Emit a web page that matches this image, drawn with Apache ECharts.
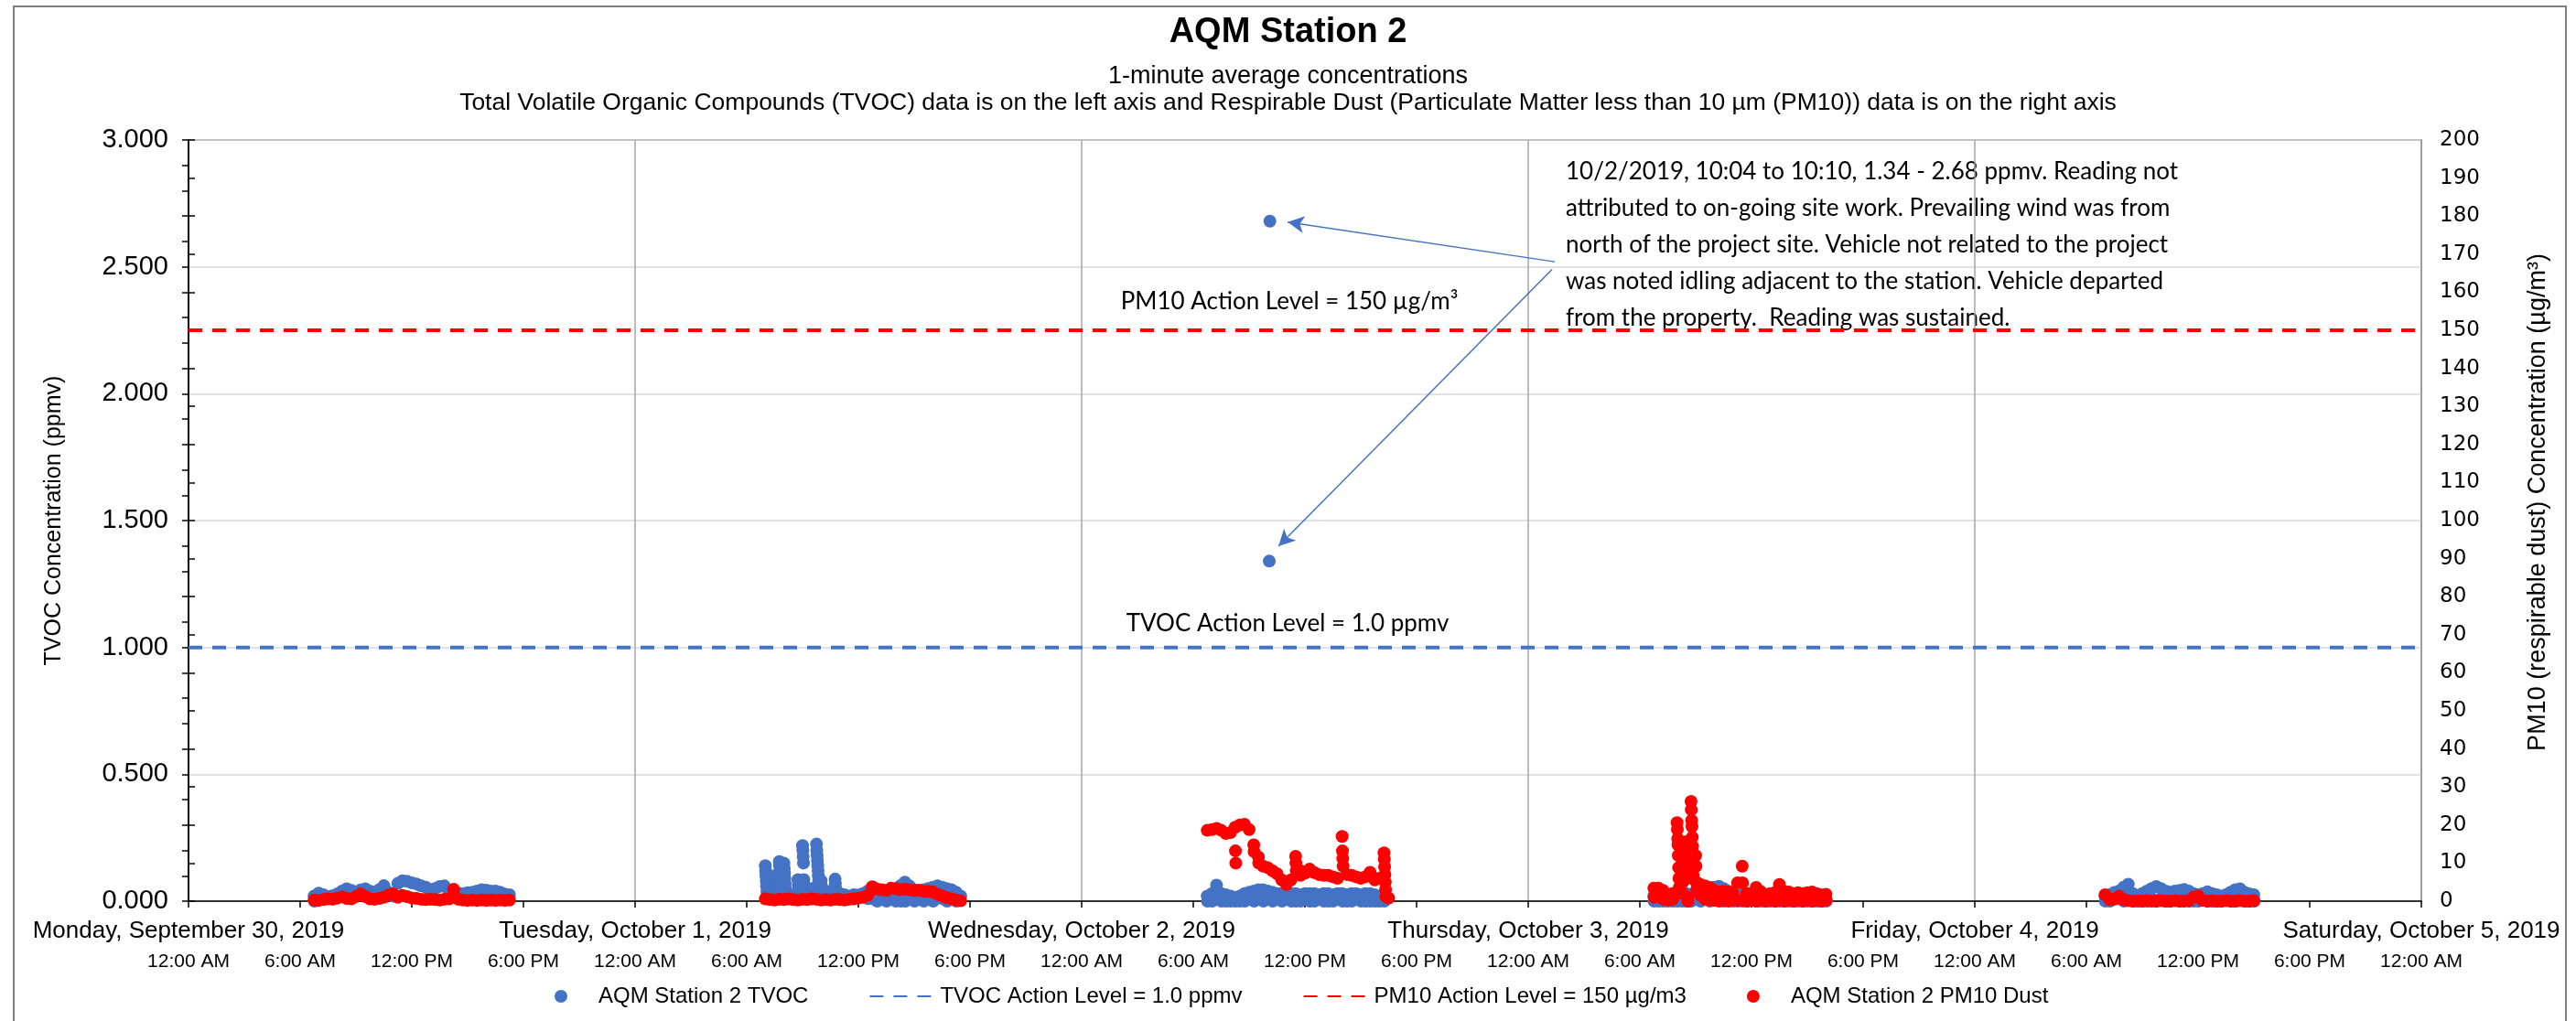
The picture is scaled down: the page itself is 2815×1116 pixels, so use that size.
<!DOCTYPE html>
<html>
<head>
<meta charset="utf-8">
<title>AQM Station 2</title>
<script src="https://cdn.jsdelivr.net/npm/echarts@6/dist/echarts.min.js"></script>
<style>
  html, body { margin: 0; padding: 0; background: #fff; }
  #chart { width: 2815px; height: 1116px; }
</style>
</head>
<body>
<div id="chart"></div>
<script>
// x values are hours since Monday Sep 30 2019, 12:00 AM
var dayLabels = ['Monday, September 30, 2019', 'Tuesday, October 1, 2019', 'Wednesday, October 2, 2019',
  'Thursday, October 3, 2019', 'Friday, October 4, 2019', 'Saturday, October 5, 2019'];
var timeLabels = ['12:00 AM', '6:00 AM', '12:00 PM', '6:00 PM'];

// readings, one slot every 15 minutes from the start hour; a slot with a list holds several 1-minute readings
var STEP = 0.25;

var tvocSep30 = [[0.02, 0], 0.032, 0.025, 0.017, 0.022, 0.029, 0.04, 0.049, 0.042, 0.037, 0.044, 0.049, 0.04,
  0.035, 0.045, 0.061, 0.035, 0.02, 0.07, 0.08, 0.078, 0.072, 0.068, 0.06, 0.055, 0.045, 0.05, 0.058, 0.06,
  0.04, 0.034, 0.032, 0.03, 0.033, 0.035, 0.04, 0.045, 0.043, 0.04, 0.04, 0.035, 0.028, 0.025];
var pmSep30 = [0.3, 0.2, 0.4, 0.6, 0.5, 0.8, 1.1, 0.7, 0.6, 1.2, 1.9, 1.2, 0.6, 0.5, 0.7, 1.0, 1.6, 1.9, 1.0,
  1.5, 1.2, 0.8, 0.7, 0.5, 0.4, 0.5, 0.4, 0.3, 0.5, 0.6, 3.1, 0.5, 0.3, 0.2, 0.3, 0.2, 0.3, 0.2, 0.3, 0.2, 0.3,
  0.2, 0.3];

var tvocOct1 = [[0.14, 0.12, 0.1, 0.08, 0.06, 0.04, 0.02], [0.03, 0.01], [0.1, 0.08, 0.06, 0.04, 0.02],
  [0.156, 0.14, 0.12, 0.1, 0.08, 0.06, 0.04, 0.02], [0.15, 0.13, 0.11, 0.09, 0.07, 0.05, 0.03], [0.02, 0.01],
  [0.025, 0.01], [0.085, 0.065, 0.045, 0.02], [0.219, 0.2, 0.175, 0.15, 0.085, 0.065, 0.04, 0.02], [0.03, 0.01],
  [0.05, 0.03, 0.01], [0.225, 0.2, 0.18, 0.16, 0.14, 0.12, 0.1, 0.08, 0.06, 0.04, 0.02], [0.08, 0.06, 0.04, 0.02],
  [0.035, 0.01], [0.04, 0.02], [0.087, 0.07, 0.05, 0.03], [0.03, 0.01], 0.025, 0.02, 0.025, 0.024, 0.03,
  [0.04, 0.01], [0.05, 0.01], [0.045, 0], [0.04, 0.01], [0.035, 0], [0.03, 0.01], [0.045, 0], [0.06, 0.02, 0],
  [0.075, 0.04, 0], [0.06, 0.02], [0.045, 0], [0.04, 0.01], [0.045, 0], [0.05, 0.01], [0.055, 0], [0.06, 0.02],
  [0.055, 0.01], [0.05, 0], [0.045, 0.01], [0.035, 0], 0.02];
var pmOct1 = [0.6, 0.4, 0.3, 0.5, 0.4, 0.6, 0.4, 0.3, 0.5, 0.4, 0.6, 0.5, 0.3, 0.4, 0.3, 0.5, 0.4, 0.3, 0.5, 0.6,
  0.8, 1.0, 1.5, 3.8, 3.2, 3.0, 2.8, 3.4, 3.3, 3.0, 3.2, 3.0, 2.8, 2.9, 2.6, 2.6, 2.4, 1.8, 1.4, 0.9, 0.6, 0.3, 0.1];

var tvocOct2 = [[0.02, 0], [0.03, 0], [0.063, 0.04, 0.01], [0.03, 0], [0.025, 0], [0.02, 0], [0.015, 0], [0.02, 0],
  [0.03, 0], [0.035, 0.01], [0.04, 0], [0.045, 0.01], [0.045, 0], [0.04, 0.01], [0.035, 0], [0.03, 0.01], [0.03, 0],
  [0.03, 0.01], [0.03, 0], [0.03, 0], [0.025, 0], [0.03, 0.01], [0.03, 0], [0.03, 0], [0.025, 0.01], [0.03, 0],
  [0.03, 0], [0.025, 0], [0.03, 0.01], [0.03, 0], [0.025, 0], [0.03, 0], [0.03, 0.01], [0.025, 0], [0.03, 0],
  [0.03, 0], [0.025, 0], [0.02, 0], [0.02, 0]];
var pmOct2 = [18.6, 18.8, 19.1, 18.6, 17.8, 18.0, [19.4, 13.2, 10.0], 20.0, 20.2, 18.8, [14.8, 13.0], [11.6, 10.0],
  9.2, 8.8, 8.0, 7.2, 5.6, 4.4, 5.6, [11.8, 10.0, 8.0], [8.0, 6.8], 7.4, 8.4, 7.5, 7.0, 6.8, 6.8, 6.4, 6.0,
  [17.0, 13.2, 11.2, 9.2], 7.0, 6.8, 6.4, 6.0, 6.4, 7.6, 5.6, 6.0, [12.7, 11.0, 9.0, 7.0, 5.0, 3.0, 1.2], 0.8];

var tvocOct3 = [[0.02, 0], [0.01, 0], [0.02, 0], [0.01, 0], [0.02, 0], [0.03, 0], [0.02, 0], [0.03, 0], [0.02, 0],
  [0.03, 0.01], [0.04, 0], [0.045, 0.01], [0.05, 0], [0.055, 0.01], [0.059, 0.02], [0.05, 0], [0.04, 0.01],
  [0.03, 0], [0.02, 0], [0.025, 0], [0.02, 0], [0.03, 0.01], [0.035, 0], [0.03, 0], [0.025, 0], [0.02, 0],
  [0.02, 0], [0.025, 0], [0.02, 0], [0.02, 0], [0.015, 0], [0.02, 0], [0.015, 0], [0.02, 0], [0.015, 0],
  [0.02, 0], [0.015, 0], [0.01, 0]];
var pmOct3 = [[3.4, 1.0], [3.4, 2.0], [2.8, 0.5], [1.2, 0.3], [2.0, 0.5],
  [20.6, 18.8, 16.4, 14.8, 12.0, 8.8, 6.0, 3.6], [13.0, 10.0, 8.0, 5.0, 2.0], [15.6, 12.4, 9.5, 6.0, 1.0, 0.0],
  [26.2, 24.0, 21.2, 19.6, 16.8, 14.4, 10.0, 6.8], [12.0, 9.2, 5.0, 3.0], [4.4, 1.5], [4.0, 0.5], [3.6, 0.3],
  [2.8, 0.2], [2.4, 0], [2.6, 0.2], [2.4, 0], [2.2, 0.3], [4.8, 0.2], [9.2, 4.8, 0.2], [2.0, 0], [2.0, 0.2],
  [3.6, 0], [2.5, 0.3], [1.6, 0], [2.0, 0.2], [2.2, 0], [4.4, 0.3], [2.6, 0], [2.4, 0.2], [2.0, 0], [2.2, 0.3],
  [2.0, 0], [2.2, 0.2], [2.4, 0], [2.0, 0.2], [1.6, 0], [1.8, 0.3]];

var tvocOct4 = [[0.02, 0], [0.025, 0], [0.034, 0.01], [0.04, 0.01], [0.055, 0], [0.067, 0.03], [0.03, 0],
  [0.012, 0], [0.03, 0], [0.04, 0], [0.05, 0.01], [0.058, 0], [0.05, 0.01], [0.04, 0], [0.035, 0], [0.04, 0.01],
  [0.042, 0], [0.046, 0.01], [0.04, 0], [0.03, 0], [0.025, 0], [0.03, 0.01], [0.037, 0], [0.03, 0], [0.025, 0],
  [0.02, 0], [0.025, 0.01], [0.035, 0], [0.045, 0], [0.049, 0.01], [0.035, 0], [0.029, 0], [0.025, 0]];
var pmOct4 = [1.7, 0.4, 0.5, 1.3, 0.4, 0.1, 0.0, 0.1, 0.0, 0.1, 0.0, 0.0, 0.1, 0.0, 0.0, 0.1, 0.0, 0.0, 0.1, 1.0,
  1.4, 0.2, 0.0, 0.1, 0.0, 0.0, 0.1, 0.0, 0.0, 0.1, 0.0, 0.0, 0.1];

// [day index, start hour, readings]
var tvocClusters = [[0, 6.75, tvocSep30], [1, 7.0, tvocOct1], [2, 6.75, tvocOct2], [3, 6.75, tvocOct3], [4, 7.0, tvocOct4]];
var pmClusters = [[0, 6.75, pmSep30], [1, 7.0, pmOct1], [2, 6.75, pmOct2], [3, 6.75, pmOct3], [4, 7.0, pmOct4]];

// 10/2/2019 10:04 to 10:10 event
var tvocEvent = [[2, '10:05', 1.34], [2, '10:07', 2.68]];

var tvocActionLevel = 1.0;
var pm10ActionLevel = 150;

// callout arrows, [hours, ppmv]
var arrowFrom = [[73.43, 2.52], [73.28, 2.49]];
var arrowTo = [[59.07, 2.676], [58.58, 1.399]];

var noteLines = [
  '10/2/2019, 10:04 to 10:10, 1.34 - 2.68 ppmv. Reading not',
  'attributed to on-going site work. Prevailing wind was from',
  'north of the project site. Vehicle not related to the project',
  'was noted idling adjacent to the station. Vehicle departed',
  'from the property.  Reading was sustained.'
];

function expand(day, startHour, slots) {
  var pts = [];
  slots.forEach(function (slot, i) {
    [].concat(slot).forEach(function (v, k) {
      pts.push([day * 24 + startHour + i * STEP + k / 60, v]);
    });
  });
  return pts;
}

var tvocData = [];
tvocClusters.forEach(function (c) { tvocData = tvocData.concat(expand(c[0], c[1], c[2])); });
tvocEvent.forEach(function (e) {
  var hm = e[1].split(':');
  tvocData.push([e[0] * 24 + (+hm[0]) + (+hm[1]) / 60, e[2]]);
});
var pmData = [];
pmClusters.forEach(function (c) { pmData = pmData.concat(expand(c[0], c[1], c[2])); });

var FONT = "'Liberation Sans', Arial, sans-serif";
var NOTE_FONT = "Lato, 'Open Sans', sans-serif";
var BLUE = '#4472C4';
var RED = '#FF0000';

var chart = echarts.init(document.getElementById('chart'));

var option = {
  animation: false,
  backgroundColor: '#fff',
  title: [
    { text: 'AQM Station 2', left: 'center', top: 13, padding: 0,
      textStyle: { fontFamily: FONT, fontSize: 38, fontWeight: 'bold', color: '#000', lineHeight: 46 } },
    { text: '1-minute average concentrations', left: 'center', top: 68, padding: 0,
      textStyle: { fontFamily: FONT, fontSize: 27, fontWeight: 'normal', color: '#000', lineHeight: 32 } },
    { text: 'Total Volatile Organic Compounds (TVOC) data is on the left axis and Respirable Dust (Particulate Matter less than 10 µm (PM10)) data is on the right axis',
      left: 'center', top: 97, padding: 0,
      textStyle: { fontFamily: FONT, fontSize: 26.5, fontWeight: 'normal', color: '#000', lineHeight: 31 } }
  ],
  grid: { left: 206, right: 169, top: 153, bottom: 131, show: true, borderColor: '#595959', borderWidth: 1.5 },
  legend: {
    left: 601, top: 1072, itemWidth: 72, itemHeight: 14, itemGap: 66,
    textStyle: { fontFamily: FONT, fontSize: 24, color: '#000' },
    data: [
      { name: 'AQM Station 2 TVOC' },
      { name: 'TVOC Action Level = 1.0 ppmv', itemStyle: { opacity: 0 } },
      { name: 'PM10 Action Level = 150 µg/m3', itemStyle: { opacity: 0 } },
      { name: 'AQM Station 2 PM10 Dust' }
    ]
  },
  xAxis: [
    {
      type: 'value', min: 0, max: 120, interval: 6, position: 'bottom',
      axisLine: { onZero: false, lineStyle: { color: '#000', width: 1.5 } },
      axisTick: { show: true, length: 7, lineStyle: { color: '#000', width: 1.5 } },
      axisLabel: {
        margin: 56, fontFamily: FONT, fontSize: 21, color: '#000', showMinLabel: true, showMaxLabel: true,
        formatter: function (v) { return timeLabels[Math.round(v / 6) % 4]; }
      },
      splitLine: { show: false }
    },
    {
      type: 'value', min: 0, max: 120, interval: 24, position: 'bottom',
      axisLine: { show: false }, axisTick: { show: false },
      axisLabel: {
        margin: 20, fontFamily: FONT, fontSize: 26, color: '#000', showMinLabel: true, showMaxLabel: true,
        formatter: function (v) { return dayLabels[Math.round(v / 24)]; }
      },
      splitLine: { show: true, lineStyle: { color: '#A6A6A6', width: 1.5 } }
    }
  ],
  yAxis: [
    {
      type: 'value', min: 0, max: 3, interval: 0.5, position: 'left',
      name: 'TVOC Concentration (ppmv)', nameLocation: 'middle', nameGap: 134,
      nameTextStyle: { fontFamily: FONT, fontSize: 25, color: '#000' },
      axisLine: { show: true, lineStyle: { color: '#000', width: 1.5 } },
      axisTick: { show: true, length: 7, lineStyle: { color: '#000', width: 1.5 } },
      minorTick: { show: true, splitNumber: 5, length: 7, lineStyle: { color: '#000', width: 1.5 } },
      axisLabel: { margin: 22, fontFamily: FONT, fontSize: 29, color: '#000',
        formatter: function (v) { return v.toFixed(3); } },
      splitLine: { show: true, lineStyle: { color: '#D9D9D9', width: 1.5 } }
    },
    {
      type: 'value', min: 0, max: 200, interval: 10, position: 'right',
      name: 'PM10 (respirable dust) Concentration (µg/m³)', nameLocation: 'middle', nameGap: 114, nameRotate: 90,
      nameTextStyle: { fontFamily: FONT, fontSize: 27, color: '#000', padding: [0, 0, 0, 40] },
      axisLine: { show: true, lineStyle: { color: '#000', width: 1.5 } },
      axisTick: { show: true, length: 7, lineStyle: { color: '#000', width: 1.5 } },
      axisLabel: { margin: 20, fontFamily: 'DejaVu Sans', fontSize: 23, color: '#000' },
      splitLine: { show: false }
    }
  ],
  series: [
    {
      name: 'AQM Station 2 TVOC', type: 'scatter', xAxisIndex: 0, yAxisIndex: 0,
      symbol: 'circle', symbolSize: 14, itemStyle: { color: BLUE, opacity: 1 },
      data: tvocData,
      markLine: {
        silent: true, symbol: ['none', 'arrow'], symbolSize: [14, 18], label: { show: false },
        lineStyle: { color: BLUE, width: 1.5, type: 'solid' },
        data: arrowFrom.map(function (f, i) { return [{ coord: f }, { coord: arrowTo[i] }]; })
      }
    },
    {
      name: 'TVOC Action Level = 1.0 ppmv', type: 'line', xAxisIndex: 0, yAxisIndex: 0,
      symbol: 'none', color: BLUE, lineStyle: { color: BLUE, width: 4, type: [15, 11] },
      data: [[0, tvocActionLevel], [120, tvocActionLevel]]
    },
    {
      name: 'PM10 Action Level = 150 µg/m3', type: 'line', xAxisIndex: 0, yAxisIndex: 1,
      symbol: 'none', color: RED, lineStyle: { color: RED, width: 4, type: [15, 11] },
      data: [[0, pm10ActionLevel], [120, pm10ActionLevel]]
    },
    {
      name: 'AQM Station 2 PM10 Dust', type: 'scatter', xAxisIndex: 0, yAxisIndex: 1,
      symbol: 'circle', symbolSize: 14, itemStyle: { color: RED, opacity: 1 },
      data: pmData
    }
  ],
  graphic: [
    { type: 'rect', silent: true, shape: { x: 15, y: 7, width: 2789, height: 1130 },
      style: { fill: 'none', stroke: '#7F7F7F', lineWidth: 2 } },
    { type: 'text', silent: true, x: 1409, y: 330,
      style: { text: 'PM10 Action Level = 150 µg/m³', font: '26px ' + NOTE_FONT, fill: '#000', align: 'center', verticalAlign: 'middle' } },
    { type: 'text', silent: true, x: 1407, y: 682,
      style: { text: 'TVOC Action Level = 1.0 ppmv', font: '26px ' + NOTE_FONT, fill: '#000', align: 'center', verticalAlign: 'middle' } },
    { type: 'text', silent: true, x: 1711, y: 168,
      style: { text: noteLines.join('\n'), font: '26px ' + NOTE_FONT, lineHeight: 40, fill: '#000', align: 'left', verticalAlign: 'top' } }
  ]
};

chart.setOption(option);
</script>
</body>
</html>
